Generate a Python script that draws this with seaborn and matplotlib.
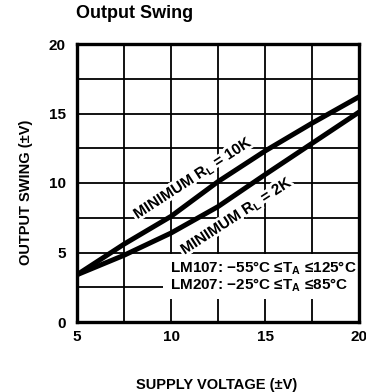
import matplotlib
matplotlib.use("Agg")
import matplotlib.pyplot as plt
import matplotlib.patheffects as pe
from matplotlib.patches import Rectangle
import seaborn as sns
import pandas as pd

# ---- data ----
supply_v = [5, 7.5, 10, 12.5, 15, 17.5, 20]
swing_10k = [3.4, 5.6, 7.6, 10.1, 12.3, 14.3, 16.2]
swing_2k = [3.4, 4.8, 6.4, 8.3, 10.6, 12.85, 15.1]
x_ticks = [5, 10, 15, 20]
y_ticks = [0, 5, 10, 15, 20]
grid_x = [5, 7.5, 10, 12.5, 15, 17.5, 20]
grid_y = [0, 2.5, 5, 7.5, 10, 12.5, 15, 17.5, 20]

title = "Output Swing"
x_label = "SUPPLY VOLTAGE (±V)"
y_label = "OUTPUT SWING (±V)"
label_10k = r"MINIMUM R$_\mathregular{L}$ = 10K"
label_2k = r"MINIMUM R$_\mathregular{L}$ = 2K"
note = "LM107: −55°C ≤T$_\\mathregular{A}$ ≤125°C\nLM207: −25°C ≤T$_\\mathregular{A}$ ≤85°C"

df = pd.DataFrame({
    "v": supply_v * 2,
    "swing": swing_10k + swing_2k,
    "load": ["10K"] * len(supply_v) + ["2K"] * len(supply_v),
})

sns.set_theme(style="white")
plt.rcParams["font.family"] = ["Liberation Sans", "DejaVu Sans"]
plt.rcParams["font.weight"] = "bold"
plt.rcParams["mathtext.fontset"] = "custom"
plt.rcParams["mathtext.rm"] = "Liberation Sans:bold"
plt.rcParams["mathtext.it"] = "Liberation Sans:bold"
plt.rcParams["mathtext.bf"] = "Liberation Sans:bold"

fig = plt.figure(figsize=(3.66, 3.92), dpi=100)
ax = fig.add_axes([77 / 366, 1 - 322 / 392, (359 - 77) / 366, (322 - 44) / 392])

sns.lineplot(data=df, x="v", y="swing", hue="load", palette={"10K": "black", "2K": "black"},
             linewidth=3.6, legend=False, ax=ax, zorder=3)

ax.set_xlim(5, 20)
ax.set_ylim(0, 20)
ax.set_xticks(grid_x)
ax.set_yticks(grid_y)
ax.grid(True, color="black", linewidth=1.3)
ax.set_axisbelow(True)
ax.set_xticklabels([str(v) if v in x_ticks else "" for v in grid_x])
ax.set_yticklabels([str(v) if v in y_ticks else "" for v in grid_y])
ax.tick_params(axis="both", length=0, labelsize=11, colors="black")
ax.tick_params(axis="y", pad=8)
ax.tick_params(axis="x", pad=6)
for lab in ax.get_xticklabels() + ax.get_yticklabels():
    lab.set_fontweight("bold")
for s in ax.spines.values():
    s.set_visible(True)
    s.set_color("black")
    s.set_linewidth(2.4)

ax.set_xlabel(x_label, fontsize=10.5, fontweight="bold", color="black")
ax.set_ylabel(y_label, fontsize=10.5, fontweight="bold", color="black")
ax.xaxis.set_label_coords((217 - 77) / 282, -(378 - 322) / 278)
ax.yaxis.set_label_coords(-(77 - 33) / 282, (322 - 192) / 278)

# white panel behind the temperature note
ax.add_patch(Rectangle((9.6, 1.65), 10.4, 3.25, facecolor="white", edgecolor="none", zorder=1.5))
ax.text(9.95, 3.25, note, fontsize=11, fontweight="bold", ha="left", va="center",
        linespacing=0.9, zorder=4, color="black")

halo = [pe.withStroke(linewidth=4, foreground="white")]
ax.text(11.18, 10.32, label_10k, rotation=33, fontsize=11, fontweight="bold",
        ha="center", va="center", rotation_mode="anchor", zorder=2.5, color="black",
        path_effects=halo)
ax.text(13.5, 7.6, label_2k, rotation=33, fontsize=11, fontweight="bold",
        ha="center", va="center", rotation_mode="anchor", zorder=2.5, color="black",
        path_effects=halo)

fig.text(76 / 366, 1 - 13 / 392, title, fontsize=13, fontweight="bold",
         family=["Liberation Sans", "DejaVu Sans"], ha="left", va="center", color="black")

fig.savefig("out.png", dpi=100, facecolor="white")
